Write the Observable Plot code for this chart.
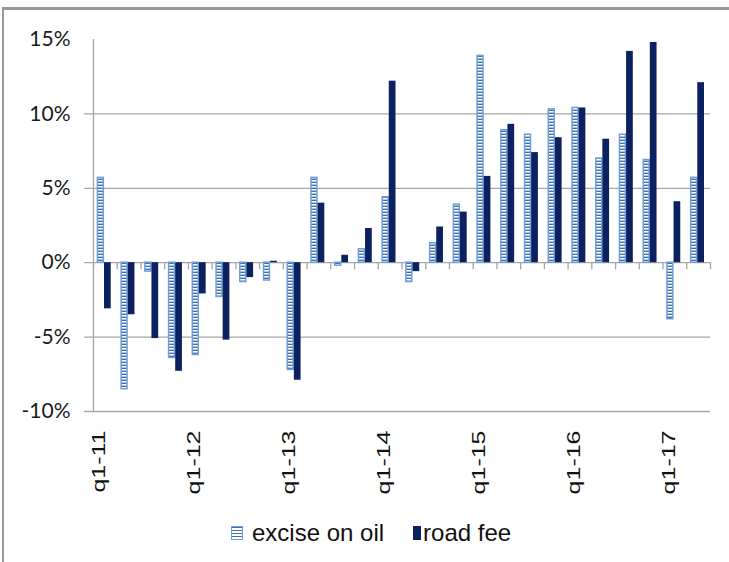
<!DOCTYPE html>
<html>
<head>
<meta charset="utf-8">
<script src="https://cdn.jsdelivr.net/npm/d3@7"></script>
<script src="https://cdn.jsdelivr.net/npm/@observablehq/plot@0.6"></script>
<style>
  html, body { margin: 0; padding: 0; background: #fff; }
  #wrap { position: relative; width: 729px; height: 562px; overflow: hidden; background: #fff; }
  #borderTop { position: absolute; left: 2px; top: 7px; width: 727px; height: 3px; background: #9a9a9a; }
  #borderLeft { position: absolute; left: 2px; top: 7px; width: 2px; height: 555px; background: #9a9a9a; }
  #chart { position: absolute; left: 0; top: 0; }
  #legend { position: absolute; left: 231px; top: 519px; display: flex; align-items: center;
            font-family: "Liberation Sans", Arial, sans-serif; font-size: 24px; color: #111; }
  .item { display: flex; align-items: center; }
  .sw1 { width: 12px; height: 14px; margin-right: 9px; border: 1.5px solid #6f9ed8; box-sizing: border-box;
         background: repeating-linear-gradient(to bottom, #3f70b5 0px, #3f70b5 1.5px, #ffffff 1.5px, #ffffff 3px); }
  .sw2 { width: 8px; height: 14px; margin-left: 29px; margin-right: 2px; background: #0b2160; }
</style>
</head>
<body>
<div id="wrap">
  <div id="chart"></div>
  <div id="borderTop"></div>
  <div id="borderLeft"></div>
  <div id="legend">
    <div class="item"><span class="sw1"></span><span>excise on oil</span></div>
    <div class="item"><span class="sw2"></span><span>road fee</span></div>
  </div>
</div>
<script>
const quarters = ["q1-11","q2-11","q3-11","q4-11","q1-12","q2-12","q3-12","q4-12",
                  "q1-13","q2-13","q3-13","q4-13","q1-14","q2-14","q3-14","q4-14",
                  "q1-15","q2-15","q3-15","q4-15","q1-16","q2-16","q3-16","q4-16",
                  "q1-17","q2-17"];
const exciseOnOil = [5.7,-8.5,-0.6,-6.4,-6.2,-2.3,-1.3,-1.2,
                     -7.2,5.7,-0.2,0.9,4.4,-1.3,1.3,3.9,
                     13.9,8.9,8.6,10.3,10.4,7.0,8.6,6.9,
                     -3.8,5.7];
const roadFee = [-3.1,-3.5,-5.1,-7.3,-2.1,-5.2,-1.0,0.1,
                 -7.9,4.0,0.5,2.3,12.2,-0.6,2.4,3.4,
                 5.8,9.3,7.4,8.4,10.4,8.3,14.2,14.8,
                 4.1,12.1];
const xTickLabels = ["q1-11","q1-12","q1-13","q1-14","q1-15","q1-16","q1-17"];
const yTicks = [15, 10, 5, 0, -5, -10];
const gridValues = [10, 5, 0, -5, -10];

const rows = quarters.map((q, i) => ({q, excise: exciseOnOil[i], road: roadFee[i]}));

const W = 729, H = 510, mL = 93, mR = 19, mT = 39, mB = 99;
const bw = (W - mL - mR) / quarters.length;
const grid = "#a6a6a6";

const chart = Plot.plot({
  width: W, height: H,
  marginLeft: mL, marginRight: mR, marginTop: mT, marginBottom: mB,
  style: {background: "transparent", overflow: "visible"},
  x: {domain: quarters, padding: 0, round: false, axis: null},
  y: {domain: [-10, 15], axis: null},
  marks: [
    Plot.ruleY(gridValues, {stroke: grid, strokeWidth: 1.3, insetLeft: -9}),
    Plot.ruleX(quarters, {x: d => d, y1: 0, y2: -0.47, dx: -bw / 2, stroke: grid, strokeWidth: 1.3}),
    Plot.ruleX([quarters[quarters.length - 1]], {x: d => d, y1: 0, y2: -0.47, dx: bw / 2, stroke: grid, strokeWidth: 1.3}),
    Plot.ruleX([quarters[0]], {x: d => d, y1: -10, y2: 15, dx: -bw / 2, stroke: grid, strokeWidth: 1.3}),
    Plot.barY(rows, {x: "q", y: "excise", fill: "url(#stripes)", stroke: "#6f9ed8", strokeWidth: 1.5,
                     insetLeft: 4.4, insetRight: 13.4}),
    Plot.barY(rows, {x: "q", y: "road", fill: "#0b2160", insetLeft: 11, insetRight: 6}),
    Plot.axisY(yTicks, {tickSize: 0, tickPadding: 23, tickFormat: d => d + "%",
                        fontSize: 21, fontFamily: "Lato, 'Open Sans', sans-serif", fill: "#1a1a1a"}),
    Plot.text(xTickLabels, {x: d => d, frameAnchor: "bottom", dy: 19, rotate: -90, textAnchor: "end",
                            fontSize: 25, fontFamily: "'Liberation Sans', Arial, sans-serif", fill: "#111",
                            className: "xlab"})
  ]
});

const ns = "http://www.w3.org/2000/svg";
const svg = chart.tagName.toLowerCase() === "svg" ? chart : chart.querySelector("svg");
const defs = document.createElementNS(ns, "defs");
defs.innerHTML = '<pattern id="stripes" patternUnits="userSpaceOnUse" width="6" height="3">' +
  '<rect x="0" y="0" width="6" height="3" fill="#3f70b5"></rect>' +
  '<rect x="0" y="0" width="6" height="1.6" fill="#ffffff"></rect></pattern>';
svg.insertBefore(defs, svg.firstChild);
svg.querySelectorAll(".xlab text, g.xlab text, text.xlab").forEach(t => {
  const tr = t.getAttribute("transform") || "";
  t.setAttribute("transform", tr + " scale(1,0.72)");
});
document.getElementById("chart").appendChild(chart);
</script>
</body>
</html>
